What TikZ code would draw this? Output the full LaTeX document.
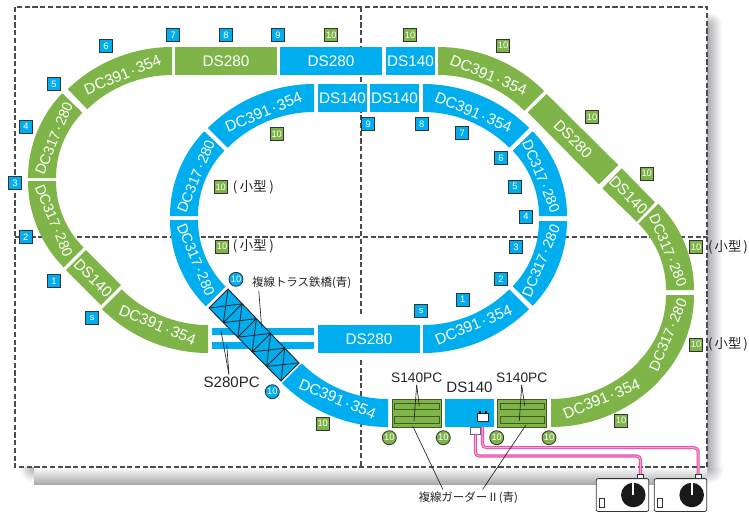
\documentclass[tikz,border=0pt]{standalone}
\usepackage{xcolor}
\usepackage{fontspec}
\usepackage{tikz}
\setmainfont{Liberation Sans}
\newfontfamily\jpfont{Noto Sans CJK JP}
\newcommand{\mdot}{\kern1.2pt·\kern1.2pt}
\definecolor{trackblue}{HTML}{00AEEF}
\definecolor{trackgreen}{HTML}{7FB548}
\definecolor{girdergreen}{HTML}{3F5A24}
\definecolor{shadowgray}{HTML}{A8AAAE}
\definecolor{wirepink}{HTML}{EC4FA9}
\definecolor{wirelight}{HTML}{F8A8D8}
\tikzset{
	gridline/.style={draw=black!70,line width=0.8pt,dash pattern=on 3.9pt off 1.9pt},
	bluetrack/.style={fill=trackblue},
	greentrack/.style={fill=trackgreen},
	tracktext/.style={text=white,font=\fontsize{11.5}{12}\selectfont,inner sep=0pt},
	tightext/.style={text=white,font=\fontsize{10.8}{12}\selectfont,inner sep=0pt},
	blacktext/.style={text=black!85,font=\fontsize{11.3}{12}\selectfont,inner sep=1.5pt},
	pctext/.style={text=black!85,font=\fontsize{10.3}{12}\selectfont,inner sep=1.5pt},
	jptext/.style={text=black!85,font=\jpfont\fontsize{8.6}{10}\selectfont,inner sep=1.5pt},
	smalltext/.style={text=black!85,font=\jpfont\fontsize{10}{11}\selectfont,inner sep=0pt},
	squaretag/.style={rectangle,draw=black!80,line width=0.7pt,text=white,font=\fontsize{7}{8}\selectfont,inner sep=0pt,minimum size=9.8pt},
	bluetag/.style={squaretag,fill=trackblue},
	greentag/.style={squaretag,fill=trackgreen},
	bluering/.style={circle,draw=black!80,line width=0.6pt,fill=trackblue,text=white,font=\fontsize{7}{8}\selectfont,inner sep=0pt,minimum size=10.5pt},
	greenring/.style={circle,draw=black!80,line width=0.6pt,fill=trackgreen,text=white,font=\fontsize{7}{8}\selectfont,inner sep=0pt,minimum size=10.5pt},
	leader/.style={draw=black!85,line width=0.5pt},
	trussline/.style={draw=black!85,line width=0.6pt},
	wire/.style={draw=wirepink,line width=0.8pt,double=wirelight,double distance=0.7pt,rounded corners=3pt},
	ctrlbox/.style={rectangle,draw=black!80,line width=0.6pt,fill=white,rounded corners=1.5pt,minimum width=39.5pt,minimum height=24.6pt,inner sep=0pt},
	plugbox/.style={rectangle,draw=black!80,line width=0.5pt,fill=white,minimum width=4.2pt,minimum height=3pt,inner sep=0pt},
	sliderbox/.style={rectangle,draw=black!80,line width=0.6pt,fill=white,minimum width=3.6pt,minimum height=7.2pt,inner sep=0pt},
	knob/.style={circle,fill=black!90,minimum size=18.4pt,inner sep=0pt},
}

\begin{document}
\begin{tikzpicture}[x=0.75pt,y=0.75pt,yscale=-1,xscale=1]
	\useasboundingbox (0,0) rectangle (749,512);

	%Shadow of the board
	\shade [inner color=shadowgray,outer color=white] (707,467) circle (17);
	\shade [inner color=shadowgray,outer color=white] (34,467) circle (15);
	\shade [inner color=shadowgray,outer color=white] (707,26) circle (15);
	\shade [top color=white,bottom color=shadowgray] (34,467) rectangle (707,484);
	\shade [left color=shadowgray,right color=white] (707,26) rectangle (722,467);

	%Board with its dashed grid
	\fill [white] (15,7) rectangle (707,467);
	\draw [gridline] (15,7) rectangle (707,467);
	\draw [gridline] (361,7) -- (361,316);
	\draw [gridline] (361,360) -- (361,467);
	\draw [gridline] (15,237) -- (707,237);

	%Outer loop, curves
	\fill [greentrack,shift={(172,197)}] (226:150) arc [start angle=226,end angle=270,radius=150] -- (270:122) arc [start angle=270,end angle=226,radius=122] -- cycle ;
	\fill [greentrack,shift={(150,178)}] (224:122) arc [start angle=224,end angle=180,radius=122] -- (180:94) arc [start angle=180,end angle=224,radius=94] -- cycle ;
	\fill [greentrack,shift={(150,181)}] (180:122) arc [start angle=180,end angle=135,radius=122] -- (135:94) arc [start angle=135,end angle=180,radius=94] -- cycle ;
	\fill [greentrack,shift={(208,203)}] (135:150) arc [start angle=135,end angle=90,radius=150] -- (90:122) arc [start angle=90,end angle=135,radius=122] -- cycle ;
	\fill [greentrack,shift={(438,197)}] (270:150) arc [start angle=270,end angle=315,radius=150] -- (315:122) arc [start angle=315,end angle=270,radius=122] -- cycle ;
	\fill [greentrack,shift={(572,290)}] (315:122) arc [start angle=315,end angle=360,radius=122] -- (360:94) arc [start angle=360,end angle=315,radius=94] -- cycle ;
	\fill [greentrack,shift={(572,295)}] (0:122) arc [start angle=0,end angle=45,radius=122] -- (45:94) arc [start angle=45,end angle=0,radius=94] -- cycle ;
	\fill [greentrack,shift={(551,277)}] (44:150) arc [start angle=44,end angle=90,radius=150] -- (90:122) arc [start angle=90,end angle=44,radius=122] -- cycle ;
	\fill [bluetrack,shift={(388,277)}] (135:150) arc [start angle=135,end angle=90,radius=150] -- (90:122) arc [start angle=90,end angle=135,radius=122] -- cycle ;

	%Outer loop, straights
	\fill [greentrack] (175,47) rectangle (277,75);
	\fill [bluetrack] (280,47) rectangle (382,75);
	\fill [bluetrack] (386,47) rectangle (435,75);
	\fill [greentrack] (66,270) -- (101,305) -- (121,285) -- (86,250) -- cycle ;
	\fill [greentrack] (546.7,94) -- (618.3,165) -- (599,184.3) -- (527.7,112.3) -- cycle ;
	\fill [greentrack] (621.7,168.3) -- (655,202.3) -- (636.7,221.7) -- (602.3,188.3) -- cycle ;
	\fill [bluetrack] (445,399) rectangle (494,427);

	%Inner loop, curves
	\fill [bluetrack,shift={(314,234)}] (225:150) arc [start angle=225,end angle=270,radius=150] -- (270:122) arc [start angle=270,end angle=225,radius=122] -- cycle ;
	\fill [bluetrack,shift={(292,216)}] (224:122) arc [start angle=224,end angle=180,radius=122] -- (180:94) arc [start angle=180,end angle=224,radius=94] -- cycle ;
	\fill [bluetrack,shift={(292,220)}] (180:122) arc [start angle=180,end angle=135,radius=122] -- (135:94) arc [start angle=135,end angle=180,radius=94] -- cycle ;
	\fill [bluetrack,shift={(423,203)}] (90:150) arc [start angle=90,end angle=45,radius=150] -- (45:122) arc [start angle=45,end angle=90,radius=122] -- cycle ;
	\fill [bluetrack,shift={(445,221)}] (0:122) arc [start angle=0,end angle=44,radius=122] -- (44:94) arc [start angle=44,end angle=0,radius=94] -- cycle ;
	\fill [bluetrack,shift={(445,216)}] (316:122) arc [start angle=316,end angle=360,radius=122] -- (360:94) arc [start angle=360,end angle=316,radius=94] -- cycle ;
	\fill [bluetrack,shift={(423,234)}] (270:150) arc [start angle=270,end angle=315,radius=150] -- (315:122) arc [start angle=315,end angle=270,radius=122] -- cycle ;

	%Inner loop, straights
	\fill [bluetrack] (318,84) rectangle (367,112);
	\fill [bluetrack] (370,84) rectangle (419,112);
	\fill [bluetrack] (318,325) rectangle (420,353);
	\fill [bluetrack] (212,328) rectangle (314,335);
	\fill [bluetrack] (212,342) rectangle (314,349);

	%Truss bridge
	\coordinate (trussA) at (228,289);
	\coordinate (trussB) at (299,363);
	\coordinate (trussC) at (281,381);
	\coordinate (trussD) at (209,308);
	\draw [fill=trackblue,draw=black!85,line width=0.7pt] (trussA) -- (trussB) -- (trussC) -- (trussD) -- cycle ;
	\draw [trussline] (228,289) -- (223.4,322.6) (209,308) -- (242.2,303.8) (223.4,322.6) -- (242.2,303.8) ;
	\draw [trussline] (242.2,303.8) -- (237.8,337.2) (223.4,322.6) -- (256.4,318.6) (237.8,337.2) -- (256.4,318.6) ;
	\draw [trussline] (256.4,318.6) -- (252.2,351.8) (237.8,337.2) -- (270.6,333.4) (252.2,351.8) -- (270.6,333.4) ;
	\draw [trussline] (270.6,333.4) -- (266.6,366.4) (252.2,351.8) -- (284.8,348.2) (266.6,366.4) -- (284.8,348.2) ;
	\draw [trussline] (284.8,348.2) -- (281,381) (266.6,366.4) -- (299,363) ;

	%Girders
	\fill [greentrack,draw=girdergreen,line width=0.75pt] (392,399.5) rectangle (441,427);
	\draw [girdergreen,line width=0.75pt] (394.5,403) rectangle (439,409.7);
	\draw [girdergreen,line width=0.75pt] (394.5,416.5) rectangle (439,423.7);
	\fill [greentrack,draw=girdergreen,line width=0.75pt] (497.5,399.5) rectangle (546.5,427);
	\draw [girdergreen,line width=0.75pt] (500,403) rectangle (544.5,409.7);
	\draw [girdergreen,line width=0.75pt] (500,416.5) rectangle (544.5,423.7);

	%Controllers
	\node [ctrlbox] (ctrlA) at (622.5,495) {};
	\node [ctrlbox] (ctrlB) at (680.5,495) {};
	\node [plugbox] (plugA) at (640.5,476.2) {};
	\node [plugbox] (plugB) at (698.2,476.2) {};
	\node [knob] (knobA) at (633.3,495) {};
	\node [knob] (knobB) at (691.7,495) {};
	\draw [white,line width=1.3pt] (knobA.center) -- (knobA.north);
	\draw [white,line width=1.3pt] (knobB.center) -- (knobB.north);
	\node [sliderbox] (sliderA) at (602,503) {};
	\node [sliderbox] (sliderB) at (660.2,503) {};

	%Feeders and wires
	\node [rectangle,draw=black!60,line width=0.5pt,fill=white,minimum width=8pt,minimum height=5.4pt,inner sep=0pt] (feedA) at (475.3,430.7) {};
	\node [rectangle,draw=black!85,line width=0.6pt,fill=white,minimum width=7.8pt,minimum height=5.4pt,inner sep=0pt] (feedB) at (482.8,417.3) {};
	\fill [black] (478.7,411.2) rectangle (480.5,413.5);
	\fill [black] (485,411.2) rectangle (486.8,413.5);
	\coordinate (feedEdge) at (482.5,427);
	\coordinate (wireLow) at (0,456);
	\coordinate (wireHigh) at (0,447.7);
	\draw [wire] (feedA.south) -- (feedA.south |- wireLow) -- (plugA.north |- wireLow) -- (plugA.north);
	\draw [wire] (feedEdge) -- (feedEdge |- wireHigh) -- (plugB.north |- wireHigh) -- (plugB.north);

	% Text Node
	\draw [shift={(172,197)}] (248:132) node [tracktext,rotate=22.5] (outerA) {DC391\mdot354};
	\draw [shift={(150,178)}] (202.5:104) node [tightext,rotate=67.5] (outerB) {DC317\mdot280};
	\draw [shift={(150,181)}] (157.5:104) node [tightext,rotate=-67.5] (outerC) {DC317\mdot280};
	\draw [shift={(208,203)}] (112.5:132) node [tracktext,rotate=-22.5] (outerD) {DC391\mdot354};
	\draw [shift={(438,197)}] (292.5:132) node [tracktext,rotate=-22.5] (outerE) {DC391\mdot354};
	\draw [shift={(572,290)}] (337.5:104) node [tightext,rotate=-67.5] (outerF) {DC317\mdot280};
	\draw [shift={(572,295)}] (22.5:104) node [tightext,rotate=67.5] (outerG) {DC317\mdot280};
	\draw [shift={(551,277)}] (67.5:132) node [tracktext,rotate=22.5] (outerH) {DC391\mdot354};
	\draw [shift={(388,277)}] (112.5:132) node [tracktext,rotate=-22.5] (outerI) {DC391\mdot354};
	\draw (226,61) node [tracktext] (outerJ) {DS280};
	\draw (331,61) node [tracktext] (outerK) {DS280};
	\draw (410.5,61) node [tracktext] (outerL) {DS140};
	\draw (93,278) node [tracktext,rotate=-45] (outerM) {DS140};
	\draw (573,139) node [tracktext,rotate=-45] (outerN) {DS280};
	\draw (628.5,195) node [tracktext,rotate=-45] (outerO) {DS140};
	\draw [shift={(314,234)}] (247.5:132) node [tracktext,rotate=22.5] (innerA) {DC391\mdot354};
	\draw [shift={(292,216)}] (202.5:104) node [tightext,rotate=67.5] (innerB) {DC317\mdot280};
	\draw [shift={(292,220)}] (157.5:104) node [tightext,rotate=-67.5] (innerC) {DC317\mdot280};
	\draw [shift={(423,203)}] (67.5:132) node [tracktext,rotate=22.5] (innerD) {DC391\mdot354};
	\draw [shift={(445,221)}] (22.5:104) node [tightext,rotate=67.5] (innerE) {DC317\mdot280};
	\draw [shift={(445,216)}] (337.5:104) node [tightext,rotate=-67.5] (innerF) {DC317\mdot280};
	\draw [shift={(423,234)}] (292.5:132) node [tracktext,rotate=-22.5] (innerG) {DC391\mdot354};
	\draw (342.5,98) node [tracktext] (innerH) {DS140};
	\draw (394.5,98) node [tracktext] (innerI) {DS140};
	\draw (369,339) node [tracktext] (innerJ) {DS280};
	% Text Node
	\draw (231.7,382) node [blacktext] (labelSa) {S280PC};
	\draw (416.7,377.7) node [pctext] (labelSb) {S140PC};
	\draw (521.7,377.7) node [pctext] (labelSc) {S140PC};
	\draw (469.5,387) node [blacktext] (labelDs) {DS140};
	\draw (301.7,282.7) node [jptext] (labelTruss) {複線トラス鉄橋(青)};
	\draw (468.3,497.7) node [jptext] (labelGirder) {複線ガーダーⅡ(青)};
	\draw (253.3,187) node [smalltext] (smallA) {(\kern2pt小型\kern2pt)};
	\draw (253.3,246.5) node [smalltext] (smallB) {(\kern2pt小型\kern2pt)};
	\draw (728,247) node [smalltext] (smallC) {(\kern1.5pt小型\kern1.5pt)};
	\draw (728,344.7) node [smalltext] (smallD) {(\kern1.5pt小型\kern1.5pt)};

	%Leaders
	\coordinate (railA) at (221,331);
	\coordinate (railB) at (226.7,344.3);
	\coordinate (trussPt) at (261.7,327.7);
	\coordinate (gLeftA) at (419.3,406);
	\coordinate (gLeftB) at (414,421);
	\coordinate (gRightA) at (524.7,406);
	\coordinate (gRightB) at (519.3,421);
	\coordinate (gLeftC) at (412.7,426);
	\coordinate (gRightC) at (526,425);
	\draw [leader] (labelSa.110) -- (railA);
	\draw [leader] (labelSa.110) -- (railB);
	\draw [leader] (labelTruss.south west) ++(9,0) -- (trussPt);
	\draw [leader] (labelSb.south) -- (gLeftA);
	\draw [leader] (labelSb.south) -- (gLeftB);
	\draw [leader] (labelSc.south) -- (gRightA);
	\draw [leader] (labelSc.south) -- (gRightB);
	\draw [leader] (labelGirder.162) -- (gLeftC);
	\draw [leader] (labelGirder.30) -- (gRightC);

	% Tag Node
	\node [bluetag] (tagS) at (92.3,318.3) {s};
	\node [bluetag] (tagA) at (54,281.3) {1};
	\node [bluetag] (tagB) at (25.7,237.3) {2};
	\node [bluetag] (tagC) at (15,183.3) {3};
	\node [bluetag] (tagD) at (26,126.7) {4};
	\node [bluetag] (tagE) at (54,84) {5};
	\node [bluetag] (tagF) at (106,46) {6};
	\node [bluetag] (tagG) at (173.3,35) {7};
	\node [bluetag] (tagH) at (226,35) {8};
	\node [bluetag] (tagI) at (278,35) {9};
	\node [bluetag] (tagJ) at (421.3,311) {s};
	\node [bluetag] (tagK) at (462.7,299.7) {1};
	\node [bluetag] (tagL) at (501,279.3) {2};
	\node [bluetag] (tagM) at (516,247) {3};
	\node [bluetag] (tagN) at (526,216.7) {4};
	\node [bluetag] (tagO) at (515,186.7) {5};
	\node [bluetag] (tagP) at (501,158.3) {6};
	\node [bluetag] (tagQ) at (462.3,133.3) {7};
	\node [bluetag] (tagR) at (421.7,124) {8};
	\node [bluetag] (tagT) at (368.3,124) {9};
	\node [greentag] (greenA) at (331.3,35) {10};
	\node [greentag] (greenB) at (410,35) {10};
	\node [greentag] (greenC) at (503,45.7) {10};
	\node [greentag] (greenD) at (592,117) {10};
	\node [greentag] (greenE) at (646.7,173.7) {10};
	\node [greentag] (greenF) at (696,247) {10};
	\node [greentag] (greenG) at (696,344.7) {10};
	\node [greentag] (greenH) at (621,420.7) {10};
	\node [greentag] (greenI) at (322.7,423.7) {10};
	\node [greentag] (greenJ) at (276.7,134) {10};
	\node [greentag] (greenK) at (220.7,187.3) {10};
	\node [greentag] (greenL) at (222,246.7) {10};
	\node [bluering] (ringA) at (236,279.3) {10};
	\node [bluering] (ringB) at (272.3,391.7) {10};
	\node [greenring] (ringC) at (389.3,437.7) {10};
	\node [greenring] (ringD) at (443.3,437.7) {10};
	\node [greenring] (ringE) at (496.7,437.7) {10};
	\node [greenring] (ringF) at (549,437.7) {10};
\end{tikzpicture}
\end{document}
